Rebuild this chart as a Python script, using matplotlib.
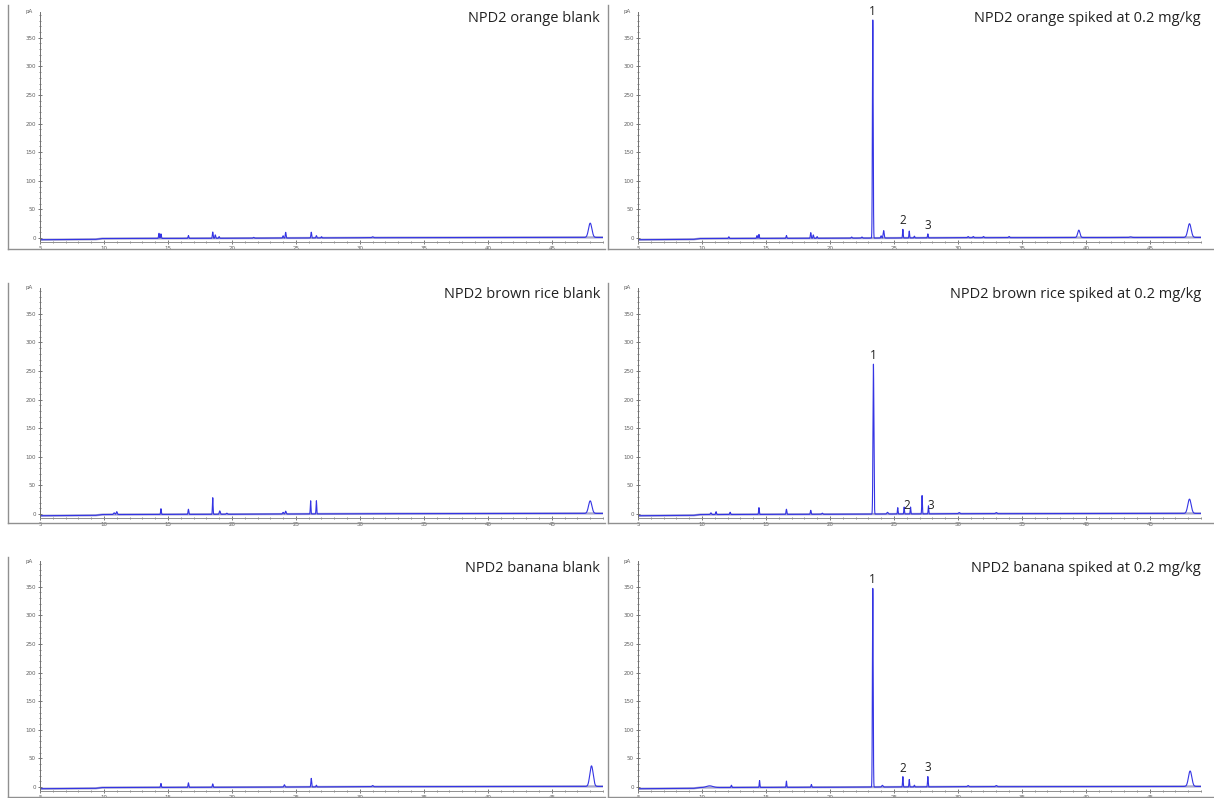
import numpy as np
import matplotlib
matplotlib.use("Agg")
import matplotlib.pyplot as plt
from matplotlib.ticker import MultipleLocator
from matplotlib.lines import Line2D

W, H = 1214, 798

# panel titles, row by row (left, right)
titles = [
    "NPD2 orange blank", "NPD2 orange spiked at 0.2 mg/kg",
    "NPD2 brown rice blank", "NPD2 brown rice spiked at 0.2 mg/kg",
    "NPD2 banana blank", "NPD2 banana spiked at 0.2 mg/kg",
]

# baseline knots (min, pA)
base_t = [5, 9.3, 9.8, 20, 30, 49]
base_y = [-3, -2.5, -1, -0.5, 0.5, 1.0]

# peak tables: retention time (min), height (pA), width sigma (min)
orange_blank_rt = [14.3, 14.45, 16.6, 18.5, 18.7, 19.0, 21.7, 24.0, 24.2, 26.2, 26.6, 27.0, 31.0, 48.0]
orange_blank_h = [9, 8, 5, 11, 6, 3, 1.5, 4, 10, 10, 4, 2, 1.5, 25]
orange_blank_w = [0.03, 0.03, 0.03, 0.03, 0.03, 0.03, 0.04, 0.03, 0.03, 0.03, 0.03, 0.03, 0.05, 0.13]

orange_spk_rt = [12.1, 14.3, 14.45, 16.6, 18.5, 18.7, 19.0, 21.7, 22.5, 23.35, 24.0, 24.2,
                 25.7, 26.2, 26.6, 27.65, 30.8, 31.2, 32.0, 34.0, 39.45, 43.5, 48.1]
orange_spk_h = [3, 5, 7, 5, 10, 6, 3, 2, 2, 382, 4, 13,
                15, 12, 3, 7, 2, 2, 2, 2, 13, 1, 24]
orange_spk_w = [0.03, 0.03, 0.03, 0.03, 0.03, 0.03, 0.03, 0.04, 0.04, 0.03, 0.03, 0.04,
                0.025, 0.025, 0.03, 0.025, 0.04, 0.04, 0.04, 0.04, 0.09, 0.08, 0.13]

rice_blank_rt = [10.8, 11.0, 14.45, 16.6, 18.5, 19.05, 19.6, 24.0, 24.2, 26.15, 26.6, 48.0]
rice_blank_h = [3, 5, 10, 9, 29, 6, 2, 3, 5, 23, 23, 22]
rice_blank_w = [0.05, 0.04, 0.025, 0.03, 0.025, 0.04, 0.04, 0.04, 0.04, 0.025, 0.025, 0.13]

rice_spk_rt = [10.7, 11.1, 12.2, 14.45, 16.6, 18.5, 19.4, 23.4, 24.5, 25.3,
               25.8, 26.3, 27.2, 27.7, 30.1, 33.0, 48.1]
rice_spk_h = [3, 5, 4, 12, 9, 7, 2, 262, 3, 11,
              12, 12, 32, 14, 2, 2, 25]
rice_spk_w = [0.04, 0.03, 0.03, 0.025, 0.03, 0.03, 0.04, 0.035, 0.05, 0.025,
              0.025, 0.025, 0.025, 0.025, 0.05, 0.05, 0.13]

banana_blank_rt = [14.45, 16.6, 18.5, 24.1, 26.2, 26.6, 31.0, 48.1]
banana_blank_h = [7, 8, 6, 4, 15, 3, 2, 36]
banana_blank_w = [0.03, 0.03, 0.03, 0.04, 0.03, 0.03, 0.05, 0.13]

banana_spk_rt = [10.6, 12.3, 14.5, 16.6, 18.55, 23.35, 24.1, 25.7, 26.2, 26.6,
                 27.65, 30.8, 33.0, 48.15]
banana_spk_h = [3, 4, 12, 11, 5, 348, 3, 18, 13, 3,
                18, 2, 2, 27]
banana_spk_w = [0.25, 0.03, 0.025, 0.025, 0.03, 0.03, 0.05, 0.025, 0.025, 0.03,
                0.025, 0.05, 0.05, 0.13]

peaks = [
    (orange_blank_rt, orange_blank_h, orange_blank_w),
    (orange_spk_rt, orange_spk_h, orange_spk_w),
    (rice_blank_rt, rice_blank_h, rice_blank_w),
    (rice_spk_rt, rice_spk_h, rice_spk_w),
    (banana_blank_rt, banana_blank_h, banana_blank_w),
    (banana_spk_rt, banana_spk_h, banana_spk_w),
]

# labelled analyte peaks in spiked samples: (label, rt)
labels_orange = [("1", 23.35), ("2", 25.7), ("3", 27.65)]
labels_rice = [("1", 23.4), ("2", 26.0), ("3", 27.9)]
labels_banana = [("1", 23.35), ("2", 25.7), ("3", 27.65)]
peak_labels = [None, labels_orange, None, labels_rice, None, labels_banana]

fig = plt.figure(figsize=(W / 100, H / 100), dpi=100)
fig.patch.set_facecolor("white")


def px_axes(left, top, width, height):
    return fig.add_axes([left / W, 1 - (top + height) / H, width / W, height / H])


def fig_line(x0, y0, x1, y1):
    fig.add_artist(Line2D([x0 / W, x1 / W], [1 - y0 / H, 1 - y1 / H],
                          color="#909090", lw=1.0, transform=fig.transFigure))


t = np.arange(5, 49.001, 0.004)
col_left = [40, 638]
col_frame = [8, 608]
col_frame_end = [605, 1214]
col_title = [600, 1201]
row_top = [12, 288, 561]
row_frame = [(5, 249), (283, 523), (557, 797)]
row_title = [19, 295, 568]

for i in range(6):
    r, c = divmod(i, 2)
    ft, fb = row_frame[r]
    fig_line(col_frame[c], ft, col_frame[c], fb)
    fig_line(col_frame[c], fb, col_frame_end[c], fb)

    ax = px_axes(col_left[c], row_top[r], 563, 230)
    rt, hh, ww = peaks[i]
    y = np.interp(t, base_t, base_y)
    for p, h, s in zip(rt, hh, ww):
        y = y + h * np.exp(-0.5 * ((t - p) / s) ** 2)
    ax.plot(t, np.interp(t, base_t, base_y), color="#a8a8cc", lw=1.6, zorder=1)
    ax.plot(t, y, color="#3434e4", lw=0.8, zorder=2)

    ax.set_xlim(5, 49)
    ax.set_ylim(-7, 395)
    for s in ["top", "right"]:
        ax.spines[s].set_visible(False)
    ax.spines["left"].set_color("#707070")
    ax.spines["bottom"].set_color("#909090")
    ax.spines["left"].set_linewidth(0.7)
    ax.spines["bottom"].set_linewidth(0.7)
    ax.xaxis.set_major_locator(MultipleLocator(5))
    ax.xaxis.set_minor_locator(MultipleLocator(1))
    ax.yaxis.set_major_locator(MultipleLocator(50))
    ax.yaxis.set_minor_locator(MultipleLocator(10))
    ax.set_yticks(np.arange(0, 351, 50))
    ax.tick_params(axis="both", which="major", direction="inout", length=3, width=0.6,
                   colors="#606060", labelsize=4, pad=1.5)
    ax.tick_params(axis="both", which="minor", direction="inout", length=2, width=0.5,
                   colors="#606060")
    ax.patch.set_alpha(0)
    ax.text(-0.012, 1.0, "pA", transform=ax.transAxes, ha="right", va="center",
            fontsize=4, color="#606060")

    if peak_labels[i]:
        for lab, p in peak_labels[i]:
            k = int(np.argmin(np.abs(t - p)))
            top = y[max(k - 25, 0):k + 25].max()
            ax.annotate(lab, (p, top), xytext=(0, 1.5), textcoords="offset points",
                        ha="center", va="bottom", fontsize=8.5, family="Open Sans",
                        color="#222222")

    fig.text(col_title[c] / W, 1 - row_title[r] / H, titles[i], ha="right", va="center",
             fontsize=10.5, family="Open Sans", color="#222222")

fig.savefig("out.png", dpi=100)
